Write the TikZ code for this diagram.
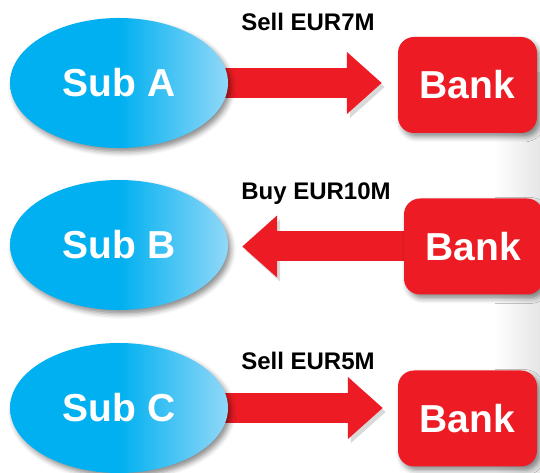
\documentclass[tikz,border=0pt]{standalone}
\usepackage{fontspec}
\newfontfamily\dealfont{Liberation Sans}
\usetikzlibrary{shapes.geometric,arrows.meta,backgrounds,shadows.blur}
\definecolor{subcyan}{RGB}{0,176,240}
\definecolor{sublight}{RGB}{145,216,248}
\definecolor{bankred}{RGB}{237,28,36}
\tikzset{
  softshadow/.style={blur shadow={shadow xshift=3pt,shadow yshift=-4pt,shadow blur radius=5pt,shadow opacity=45}},
  sub/.style={ellipse,minimum width=218pt,minimum height=130pt,inner sep=0pt,
    left color=subcyan,right color=sublight,middle color=subcyan,text=white,
    font=\dealfont\bfseries\fontsize{39}{44}\selectfont,softshadow},
  bank/.style={rounded corners=16pt,minimum width=139pt,minimum height=96pt,inner sep=0pt,
    fill=bankred,text=white,font=\dealfont\bfseries\fontsize{39}{44}\selectfont,softshadow},
  deal/.style={line width=30pt,draw=bankred,-{Triangle[length=35pt,width=60pt]},
    preaction={draw=black!15,transform canvas={shift={(3pt,-4pt)}}}},
  dealtext/.style={font=\dealfont\bfseries\fontsize{24}{28}\selectfont}
}
\begin{document}
\begin{tikzpicture}[x=1pt,y=1pt]
  \useasboundingbox (0,0) rectangle (540,473);
  % subsidiaries and banks
  \foreach \r/\y in {A/390,B/228,C/65}
    \node[sub] (sub\r) at (119,\y) {Sub \r};
  \foreach \r/\x/\y in {A/467.5/388,B/473.5/226.5,C/467.5/54.5}
    \node[bank] (bank\r) at (\x,\y) {Bank};
  \begin{scope}[on background layer]
    \shade[left color=white,right color=black!10] (495,0) rectangle (540,400);
    \draw[deal,shorten >=16pt] ([xshift=-10pt]subA.east) -- (subA.east -| bankA.west)
      node[dealtext,midway,yshift=61pt] {Sell EUR7M};
    \draw[deal,shorten >=14pt] (bankB.west) -- (bankB.west -| subB.east)
      node[dealtext,midway,yshift=53pt] {Buy EUR10M};
    \draw[deal,shorten >=15pt] ([xshift=-10pt]subC.east) -- (subC.east -| bankC.west)
      node[dealtext,midway,yshift=47pt] {Sell EUR5M};
  \end{scope}
\end{tikzpicture}
\end{document}
